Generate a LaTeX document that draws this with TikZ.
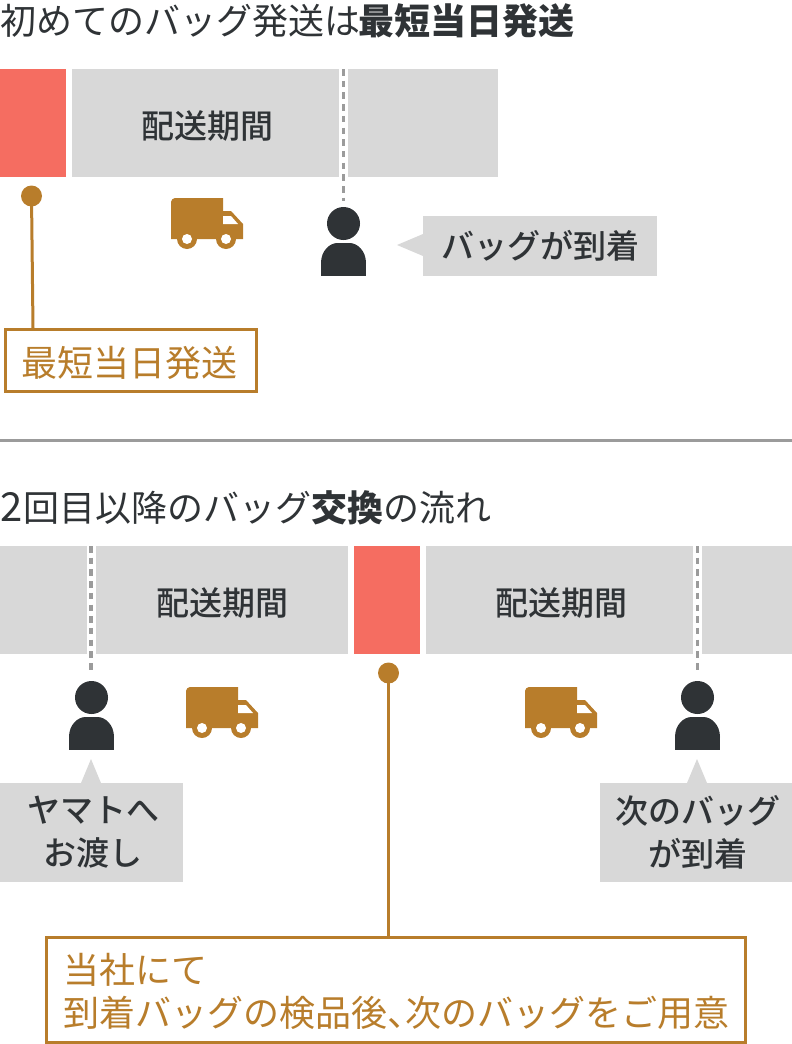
\documentclass[tikz,border=0pt]{standalone}
\usepackage{fontspec}
\setmainfont{Noto Sans CJK JP}
\newfontfamily\cjkmed{Noto Sans CJK JP Medium}
\definecolor{inkc}{HTML}{2F3336}
\definecolor{goldc}{HTML}{B87D2B}
\definecolor{barc}{HTML}{D8D8D8}
\definecolor{redc}{HTML}{F56D61}
\definecolor{rulec}{HTML}{9B9B9B}
\newcommand{\fs}[1]{\fontsize{#1}{#1}\selectfont}
\tikzset{
 x=1pt,y=-1pt,
 seg/.style={fill=barc,inner sep=0pt,outer sep=0pt,anchor=north west},
 segtext/.style={inner sep=0pt,font=\cjkmed\fs{33},text=inkc},
 redbar/.style={fill=redc,inner sep=0pt,outer sep=0pt,anchor=north west},
 headtext/.style={anchor=west,inner sep=0pt,text=inkc,font=\fs{36}},
 goldbox/.style={draw=goldc,line width=3pt,fill=white,inner sep=0pt,outer sep=0pt,anchor=north west},
 goldtext/.style={anchor=west,inner sep=0pt,text=goldc,font=\fs{36}},
 bubble/.style={fill=barc,inner sep=0pt,outer sep=0pt,anchor=north west,text=inkc,font=\cjkmed\fs{33},align=center},
 dotline/.style={draw=rulec,line width=3.4pt,dash pattern=on 6.5pt off 5.2pt},
 bullet/.style={circle,fill=goldc,minimum size=21pt,inner sep=0pt},
 leader/.style={draw=goldc,line width=3pt},
}
\newcommand{\truck}[2]{%
 \begin{scope}[shift={(#1,#2)}]
  \fill[goldc] (0,4) .. controls (0,2) and (2,0) .. (4,0) -- (52,0) -- (52,13) -- (60,13) -- (72,26) -- (72,41) -- (0,41) -- cycle;
  \fill[goldc] (16,41) circle[radius=10] (55,41) circle[radius=10];
  \fill[white] (16,41) circle[radius=5] (55,41) circle[radius=5];
  \fill[white] (52,18) -- (60,18) -- (67,26) -- (52,26) -- cycle;
 \end{scope}}
\newcommand{\person}[2]{%
 \begin{scope}[shift={(#1,#2)}]
  \fill[inkc] (0,16.5) circle[radius=16.5];
  \fill[inkc] (-22.5,69) -- (-22.5,56) -- (22.5,56) -- (22.5,69) -- cycle;
  \fill[inkc] (-22.5,56) .. controls (-22.5,44) and (-14,36) .. (-6,36) -- (6,36) .. controls (14,36) and (22.5,44) .. (22.5,56) -- cycle;
 \end{scope}}
\begin{document}
\begin{tikzpicture}
\useasboundingbox (0,0) rectangle (792,1044);
% top
\node[headtext] (h1) at (0,20.5) {初めてのバッグ発送は\kern-1.5pt\textbf{最短当日発送}};
\node[redbar,minimum width=66pt,minimum height=108pt] (r1) at (0,69) {};
\node[seg,minimum width=267pt,minimum height=108pt] (g1) at (72,69) {};
\node[segtext] (g1t) at (207,126) {配送期間};
\node[seg,minimum width=150pt,minimum height=108pt] (g2) at (348,69) {};
\coordinate (d1a) at (343.5,69);
\coordinate (d1b) at (343.5,201);
\draw[dotline] (d1a) -- (d1b);
\node[bullet] (b1) at (31.5,196) {};
\node[goldbox,minimum width=251pt,minimum height=62pt] (box1) at (5,329) {};
\node[goldtext] (box1t) at (21,363) {最短当日発送};
\draw[leader] (b1.center) -- (33,328);
\truck{171}{198}
\person{343.5}{207}
\node[bubble,minimum width=234pt,minimum height=60pt] (c1) at (423,216) {バッグが到着};
\fill[barc] (423,234) -- (397,245) -- (423,256) -- cycle;
% rule
\coordinate (ra) at (0,440.5);
\coordinate (rb) at (792,440.5);
\draw[draw=rulec,line width=3pt] (ra) -- (rb);
% bottom
\node[headtext] (h2) at (0,508) {{\fontsize{40}{40}\selectfont 2}\kern1pt 回目以降のバッグ\textbf{交換}の流れ};
\node[seg,minimum width=87pt,minimum height=108pt] (g3) at (0,546) {};
\node[seg,minimum width=252pt,minimum height=108pt] (g4) at (96,546) {};
\node[segtext] (g4t) at (222,603) {配送期間};
\node[redbar,minimum width=66pt,minimum height=108pt] (r2) at (354,546) {};
\node[seg,minimum width=267pt,minimum height=108pt] (g5) at (426,546) {};
\node[segtext] (g5t) at (561,603) {配送期間};
\node[seg,minimum width=90pt,minimum height=108pt] (g6) at (702,546) {};
\coordinate (d2a) at (91,546);
\coordinate (d2b) at (91,672);
\coordinate (d3a) at (697.5,546);
\coordinate (d3b) at (697.5,672);
\draw[dotline] (d2a) -- (d2b);
\draw[dotline] (d3a) -- (d3b);
\person{91.5}{681}
\person{697.5}{681}
\truck{186}{687}
\truck{525}{687}
\node[bubble,minimum width=183pt,minimum height=99pt] (c2) at (0,783) {\hspace*{3pt}ヤマトへ\\[10pt]\hspace*{3pt}お渡し};
\fill[barc] (81,783) -- (91,759) -- (101,783) -- cycle;
\node[bubble,minimum width=192pt,minimum height=99pt] (c3) at (600,783) {\hspace*{3pt}次のバッグ\\[10pt]\hspace*{3pt}が到着};
\fill[barc] (687,783) -- (697,759) -- (707,783) -- cycle;
\node[bullet] (b2) at (388.5,673) {};
\node[goldbox,minimum width=699pt,minimum height=104.5pt] (box2) at (46.5,937.5) {};
\node[goldtext] (t1) at (63,970) {当社にて};
\node[goldtext] (t2) at (63.5,1013) {到着バッグの検品後、\kern-.5em 次のバッグをご用意};
\draw[leader] (b2.center) -- (box2.north -| b2);
\end{tikzpicture}
\end{document}
